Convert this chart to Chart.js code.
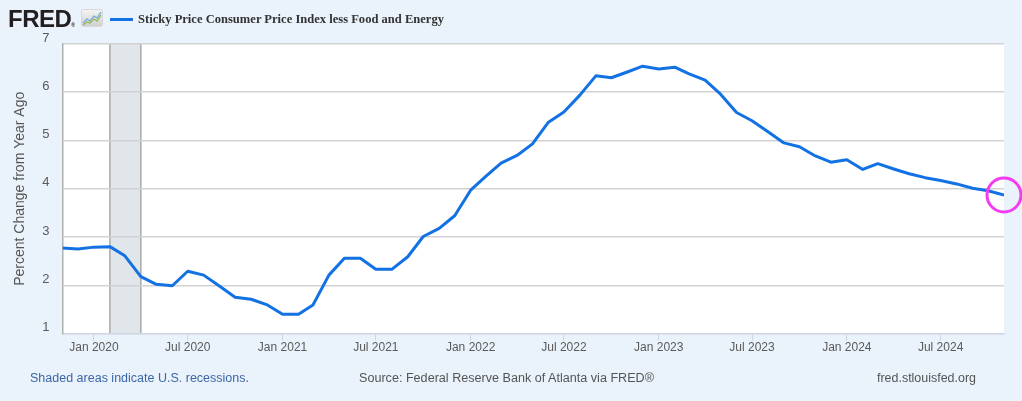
<!DOCTYPE html>
<html>
<head>
<meta charset="utf-8">
<script src="https://cdn.jsdelivr.net/npm/chart.js@4.4.1/dist/chart.umd.min.js"></script>
<style>
  html, body { margin: 0; padding: 0; background: #eaf2fb; }
  #wrap { position: relative; width: 1022px; height: 401px; overflow: hidden; background: #eaf2fb; }
  #c { position: absolute; left: 0; top: 0; }
  .abs { position: absolute; white-space: nowrap; transform-origin: 0 50%; }
  #logo { left: 8px; top: 5px; font: bold 24px "Liberation Sans", Arial, sans-serif; color: #231f20; letter-spacing: -0.5px; line-height: 28px; }
  #logo .reg { font-size: 5px; letter-spacing: 0; vertical-align: baseline; }
  #icon { left: 81px; top: 9px; }
  #legline { left: 110px; top: 18px; width: 23px; height: 3px; background: #1272e3; }
  #legtext { left: 138px; top: 11px; font: bold 12px "Liberation Serif", "Times New Roman", serif; color: #333; line-height: 16px; }
  .foot { top: 370px; font: 12px "Liberation Sans", Arial, sans-serif; line-height: 16px; color: #555; }
  #f1 { left: 30px; color: #3c67a6; }
  #f2 { left: 359px; }
  #f3 { left: 877px; }
</style>
</head>
<body>
<div id="wrap">
  <canvas id="c" width="1022" height="401"></canvas>
  <div id="logo" class="abs">FRED<span class="reg">®</span></div>
  <svg id="icon" class="abs" width="22" height="18" viewBox="0 0 22 18">
    <defs><linearGradient id="g" x1="0" y1="0" x2="0" y2="1"><stop offset="0" stop-color="#f4f4f4"/><stop offset="1" stop-color="#cfcfcf"/></linearGradient></defs>
    <rect x="0.5" y="0.5" width="21" height="17" rx="2" fill="url(#g)" stroke="#d8d8d8"/>
    <polyline points="2,14 6,10 9,12 13,7 16,9 20,3" fill="none" stroke="#7aa7d8" stroke-width="1.3"/>
    <polyline points="2,16 6,13 9,14 13,10 16,12 20,6" fill="none" stroke="#8dbb4f" stroke-width="1.3"/>
  </svg>
  <div id="legline" class="abs"></div>
  <div id="legtext" class="abs" data-w="306">Sticky Price Consumer Price Index less Food and Energy</div>
  <div id="f1" class="abs foot" data-w="219">Shaded areas indicate U.S. recessions.</div>
  <div id="f2" class="abs foot" data-w="295">Source: Federal Reserve Bank of Atlanta via FRED®</div>
  <div id="f3" class="abs foot" data-w="99">fred.stlouisfed.org</div>
</div>
<script>
const months = [
  '2019-11','2019-12',
  '2020-01','2020-02','2020-03','2020-04','2020-05','2020-06','2020-07','2020-08','2020-09','2020-10','2020-11','2020-12',
  '2021-01','2021-02','2021-03','2021-04','2021-05','2021-06','2021-07','2021-08','2021-09','2021-10','2021-11','2021-12',
  '2022-01','2022-02','2022-03','2022-04','2022-05','2022-06','2022-07','2022-08','2022-09','2022-10','2022-11','2022-12',
  '2023-01','2023-02','2023-03','2023-04','2023-05','2023-06','2023-07','2023-08','2023-09','2023-10','2023-11','2023-12',
  '2024-01','2024-02','2024-03','2024-04','2024-05','2024-06','2024-07','2024-08','2024-09','2024-10','2024-11'
];
const stickyCpi = [
  2.77, 2.75,
  2.79, 2.80, 2.61, 2.18, 2.02, 1.99, 2.29, 2.21, 1.98, 1.75, 1.71, 1.60,
  1.40, 1.40, 1.59, 2.21, 2.56, 2.56, 2.33, 2.33, 2.59, 3.01, 3.18, 3.44,
  3.97, 4.27, 4.53, 4.69, 4.93, 5.38, 5.59, 5.94, 6.34, 6.30, 6.42, 6.54,
  6.48, 6.52, 6.38, 6.25, 5.96, 5.58, 5.41, 5.18, 4.95, 4.87, 4.68, 4.55,
  4.60, 4.40, 4.52, 4.41, 4.31, 4.23, 4.17, 4.10, 4.01, 3.96, 3.87
];
const tickDates = ['2020-01-01','2020-07-01','2021-01-01','2021-07-01','2022-01-01','2022-07-01','2023-01-01','2023-07-01','2024-01-01','2024-07-01'];
const tickLabels = ['Jan 2020','Jul 2020','Jan 2021','Jul 2021','Jan 2022','Jul 2022','Jan 2023','Jul 2023','Jan 2024','Jul 2024'];
const yTicks = [1, 2, 3, 4, 5, 6, 7];
const recessions = [['2020-02-01', '2020-04-01']];
const xRange = ['2019-11-01', '2024-11-01'];

function dayNum(s) {
  const p = s.split('-').map(Number);
  return Date.UTC(p[0], p[1] - 1, p[2] || 1) / 86400000;
}

// fit footer/legend text widths
document.querySelectorAll('[data-w]').forEach(el => {
  const w = el.getBoundingClientRect().width;
  const t = +el.dataset.w;
  if (w > 0) el.style.transform = 'scaleX(' + (t / w) + ')';
});

const bgPlugin = {
  id: 'bg',
  beforeDraw(chart) {
    const { ctx, chartArea: a, scales } = chart;
    ctx.save();
    ctx.fillStyle = '#ffffff';
    ctx.fillRect(a.left, a.top, a.right - a.left, a.bottom - a.top);
    recessions.forEach(r => {
      const x1 = scales.x.getPixelForValue(dayNum(r[0]));
      const x2 = scales.x.getPixelForValue(dayNum(r[1]));
      ctx.fillStyle = '#e1e6eb';
      ctx.fillRect(x1, a.top, x2 - x1, a.bottom - a.top);
      ctx.strokeStyle = '#a9a9a9';
      ctx.lineWidth = 1.5;
      ctx.beginPath();
      ctx.moveTo(x1, a.top); ctx.lineTo(x1, a.bottom);
      ctx.moveTo(x2, a.top); ctx.lineTo(x2, a.bottom);
      ctx.stroke();
    });
    ctx.restore();
  }
};

const circlePlugin = {
  id: 'lastCircle',
  afterDraw(chart) {
    const meta = chart.getDatasetMeta(0);
    const pt = meta.data[meta.data.length - 1];
    if (!pt) return;
    const ctx = chart.ctx;
    ctx.save();
    ctx.strokeStyle = '#f23cf2';
    ctx.lineWidth = 3;
    ctx.beginPath();
    ctx.arc(pt.x, pt.y, 17, 0, Math.PI * 2);
    ctx.stroke();
    ctx.restore();
  }
};

new Chart(document.getElementById('c'), {
  type: 'line',
  data: {
    datasets: [{
      label: 'Sticky Price Consumer Price Index less Food and Energy',
      data: months.map((m, i) => ({ x: dayNum(m + '-01'), y: stickyCpi[i] })),
      borderColor: '#1272e3',
      borderWidth: 3,
      pointRadius: 0,
      tension: 0,
      fill: false,
      borderJoinStyle: 'round'
    }]
  },
  options: {
    responsive: false,
    animation: false,
    devicePixelRatio: 1,
    layout: { padding: { left: 0, top: 44, right: 18, bottom: 0 } },
    plugins: { legend: { display: false }, tooltip: { enabled: false } },
    scales: {
      x: {
        type: 'linear',
        min: dayNum(xRange[0]),
        max: dayNum(xRange[1]),
        afterBuildTicks(scale) { scale.ticks = tickDates.map(d => ({ value: dayNum(d) })); },
        afterFit(scale) { scale.height = 67.5; },
        ticks: {
          autoSkip: false, maxRotation: 0, padding: 0,
          color: '#5a5a5a',
          font: { family: '"Liberation Sans", Arial, sans-serif', size: 12 },
          callback: (v, i) => tickLabels[i]
        },
        grid: { drawOnChartArea: false, drawTicks: true, tickLength: 7, color: '#ccd6eb' },
        border: { color: '#ccd6eb', width: 1 }
      },
      y: {
        min: 1, max: 7,
        afterBuildTicks(scale) { scale.ticks = yTicks.map(v => ({ value: v })); },
        afterFit(scale) { scale.width = 62.5; },
        ticks: {
          padding: 13, labelOffset: -6,
          color: '#5a5a5a',
          font: { family: '"Liberation Sans", Arial, sans-serif', size: 13 }
        },
        grid: { drawTicks: false, color: '#d2d2d2', lineWidth: 1.5 },
        border: { color: '#b0b0b0', width: 1.5 },
        title: {
          display: true,
          text: 'Percent Change from Year Ago',
          color: '#555',
          font: { family: '"Liberation Sans", Arial, sans-serif', size: 14 },
          padding: { top: 12, bottom: 0 }
        }
      }
    }
  },
  plugins: [bgPlugin, circlePlugin]
});
</script>
</body>
</html>
